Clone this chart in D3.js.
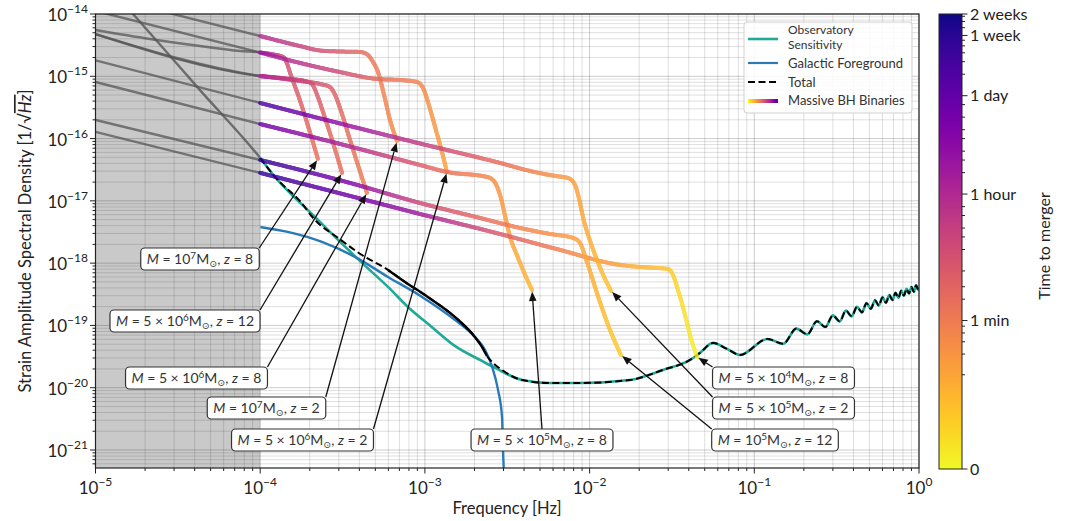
<!DOCTYPE html>
<html>
<head>
<meta charset="utf-8">
<script src="https://cdn.jsdelivr.net/npm/d3@7/dist/d3.min.js"></script>
<style>
  html,body{margin:0;padding:0;background:#fff;}
  svg text{font-family:Lato,"Open Sans","DejaVu Sans",sans-serif;}
</style>
</head>
<body>
<svg id="chart" width="1065" height="521"></svg>
<script>
// ================= DATA =================
const xTickExps = [-5, -4, -3, -2, -1, 0];
const yTickExps = [-21, -20, -19, -18, -17, -16, -15, -14];
const cbTickTimes = [0, 60, 3600, 86400, 604800, 1209600];
const cbTickLabels = ["0", "1 min", "1 hour", "1 day", "1 week", "2 weeks"];
const cbMinorTimes = [10, 20, 30, 40, 50, 120, 180, 300, 600, 900, 1200, 1800, 2400,
  7200, 10800, 14400, 21600, 28800, 43200, 64800, 172800, 259200, 345600, 432000, 518400,
  777600, 950400, 1123200];
const legendLabels = [["Observatory", "Sensitivity"], ["Galactic Foreground"], ["Total"], ["Massive BH Binaries"]];

// Observatory sensitivity [f (Hz), ASD]
const sensitivity = [
  [1.0e-5, 4.7e-14], [1.69e-5, 1.0e-14], [4.31e-5, 6.0e-16], [1.0e-4, 4.88e-17],
  [1.23e-4, 2.42e-17], [2.15e-4, 5.51e-18], [2.97e-4, 2.36e-18], [4.15e-4, 1.01e-18],
  [5.97e-4, 4.15e-19], [7.89e-4, 1.98e-19], [1.10e-3, 9.46e-20], [1.52e-3, 4.69e-20],
  [2.22e-3, 2.69e-20], [2.67e-3, 2.08e-20], [3.89e-3, 1.33e-20], [5.75e-3, 1.19e-20],
  [8.74e-3, 1.19e-20], [1.76e-2, 1.33e-20], [2.79e-2, 1.93e-20], [4.07e-2, 2.79e-20],
  [4.68e-2, 3.62e-20], [5.61e-2, 5.24e-20], [6.83e-2, 4.20e-20], [8.18e-2, 3.36e-20],
  [0.12, 6.05e-20], [0.15, 5.07e-20], [0.18, 8.89e-20], [0.21, 7.19e-20],
  [0.24, 1.17e-19], [0.27, 9.42e-20], [0.30, 1.45e-19], [0.33, 1.16e-19],
  [0.36, 1.73e-19], [0.39, 1.40e-19], [0.42, 1.99e-19], [0.45, 1.62e-19],
  [0.48, 2.28e-19], [0.51, 1.85e-19], [0.54, 2.54e-19], [0.57, 2.08e-19],
  [0.60, 2.82e-19], [0.63, 2.31e-19], [0.66, 3.07e-19], [0.69, 2.55e-19],
  [0.72, 3.34e-19], [0.75, 2.77e-19], [0.78, 3.62e-19], [0.81, 3.01e-19],
  [0.84, 3.86e-19], [0.87, 3.25e-19], [0.90, 4.14e-19], [0.93, 3.48e-19],
  [0.96, 4.42e-19], [0.99, 3.71e-19], [1.0, 4.0e-19]
];
// Galactic foreground
const foreground = [
  [1.0e-4, 3.81e-18], [1.47e-4, 3.17e-18], [2.37e-4, 2.19e-18], [3.76e-4, 1.26e-18],
  [5.97e-4, 6.01e-19], [9.61e-4, 2.87e-19], [1.52e-3, 1.23e-19], [2.01e-3, 6.54e-20],
  [2.32e-3, 4.04e-20], [2.56e-3, 2.16e-20], [2.78e-3, 9.22e-21], [2.94e-3, 3.40e-21],
  [2.98e-3, 1.00e-21], [3.02e-3, 4.0e-22]
];
// Total (low-frequency part, joins the sensitivity above ~4 mHz)
const totalLow = [
  [1.0e-4, 4.88e-17], [1.23e-4, 2.42e-17], [1.74e-4, 9.96e-18], [2.15e-4, 4.94e-18],
  [2.97e-4, 2.54e-18], [4.15e-4, 1.35e-18], [5.97e-4, 7.78e-19], [7.57e-4, 4.99e-19],
  [1.04e-3, 2.87e-19], [1.52e-3, 1.37e-19], [2.01e-3, 6.54e-20], [2.22e-3, 4.52e-20],
  [2.38e-3, 3.24e-20], [2.59e-3, 2.50e-20], [2.94e-3, 1.93e-20], [3.89e-3, 1.33e-20]
];

// Massive BH binary tracks: [f (Hz), ASD, time to merger (s)]
const bbh_1e7_z8 = [
  [1.0e-5, 5.53e-15, null], [2.14e-5, 3.97e-15, null], [4.31e-5, 3.06e-15, null], [7.54e-5, 2.55e-15, null],
  [1.0e-4, 2.41e-15, 9000], [1.15e-4, 2.28e-15, 4000], [1.38e-4, 2.04e-15, 900], [1.45e-4, 1.64e-15, 600],
  [1.52e-4, 1.13e-15, 450], [1.74e-4, 4.16e-16, 250], [2.01e-4, 1.23e-16, 150], [2.24e-4, 4.71e-17, 100]
];
const bbh_5e6_z12 = [
  [1.0e-5, 4.77e-15, null], [1.0e-4, 1.01e-15, 3600], [1.52e-4, 9.05e-16, 1200], [1.87e-4, 8.41e-16, 600],
  [2.06e-4, 7.52e-16, 400], [2.24e-4, 4.65e-16, 280], [2.44e-4, 2.39e-16, 200], [2.65e-4, 1.23e-16, 160],
  [2.89e-4, 5.87e-17, 130], [3.14e-4, 2.81e-17, 110]
];
const bbh_5e6_z8 = [
  [1.0e-5, 4.77e-15, null], [1.0e-4, 1.01e-15, 3600], [1.74e-4, 8.41e-16, 1000], [2.31e-4, 7.52e-16, 450],
  [2.65e-4, 6.73e-16, 300], [2.85e-4, 5.01e-16, 220], [3.05e-4, 3.10e-16, 170], [3.51e-4, 9.50e-17, 110],
  [3.92e-4, 3.77e-17, 80], [4.45e-4, 1.34e-17, 60]
];
const bbh_1e7_z2 = [
  [1.0e-5, 2.06e-14, null], [1.0e-4, 4.43e-15, 3600], [1.74e-4, 3.06e-15, 1200], [2.31e-4, 2.59e-15, 600],
  [3.05e-4, 2.50e-15, 300], [4.04e-4, 2.46e-15, 160], [4.51e-4, 2.20e-15, 110], [4.84e-4, 1.70e-15, 80],
  [5.19e-4, 1.17e-15, 60], [5.65e-4, 5.01e-16, 45], [6.14e-4, 1.99e-16, 38], [6.77e-4, 9.15e-17, 30]
];
const bbh_5e6_z2 = [
  [1.0e-5, 1.12e-14, null], [1.0e-4, 2.41e-15, 9000], [1.74e-4, 1.64e-15, 2500], [3.05e-4, 1.17e-15, 700],
  [5.12e-4, 9.05e-16, 150], [7.06e-4, 8.72e-16, 70], [8.95e-4, 8.10e-16, 45], [9.74e-4, 6.49e-16, 35],
  [1.07e-3, 3.10e-16, 25], [1.18e-3, 1.23e-16, 18], [1.27e-3, 6.09e-17, 15], [1.36e-3, 2.91e-17, 12]
];
const bbh_5e5_z8 = [
  [1.0e-5, 8.10e-16, null], [1.0e-4, 1.71e-16, 60000], [3.51e-4, 7.46e-17, 4000], [9.33e-4, 3.77e-17, 300],
  [1.36e-3, 2.91e-17, 100], [2.38e-3, 2.42e-17, 40], [2.59e-3, 2.17e-17, 30], [2.86e-3, 1.24e-17, 20],
  [3.06e-3, 5.94e-18, 15], [3.29e-3, 2.63e-18, 12], [3.62e-3, 1.35e-18, 9], [3.94e-3, 7.78e-19, 7],
  [4.47e-3, 3.71e-19, 5]
];
const bbh_5e4_z8 = [
  [1.0e-5, 1.28e-16, null], [1.0e-4, 2.81e-17, 500000], [3.51e-4, 1.20e-17, 50000], [9.33e-4, 6.16e-18, 8000],
  [2.86e-3, 2.94e-18, 300], [6.61e-3, 1.63e-18, 50], [1.53e-2, 9.36e-19, 12], [2.02e-2, 8.69e-19, 6],
  [2.99e-2, 8.07e-19, 3], [3.21e-2, 6.46e-19, 2], [3.44e-2, 3.71e-19, 1.2], [3.80e-2, 1.47e-19, 0.7],
  [4.07e-2, 7.04e-20, 0.4], [4.49e-2, 3.12e-20, 0.2]
];
const bbh_5e5_z2 = [
  [1.0e-5, 1.80e-15, null], [1.0e-4, 3.73e-16, 250000], [3.51e-4, 1.59e-16, 10000], [9.33e-4, 8.34e-17, 1500],
  [2.86e-3, 4.06e-17, 120], [4.35e-3, 3.02e-17, 50], [6.16e-3, 2.51e-17, 25], [7.39e-3, 2.33e-17, 18],
  [8.15e-3, 1.80e-17, 14], [9.38e-3, 4.10e-18, 9], [1.08e-2, 1.35e-18, 6], [1.21e-2, 6.46e-19, 4],
  [1.35e-2, 3.58e-19, 3]
];
const bbh_1e5_z12 = [
  [1.0e-5, 1.99e-16, null], [1.0e-4, 4.53e-17, 600000], [3.51e-4, 1.94e-17, 30000], [9.33e-4, 9.25e-18, 800],
  [2.16e-3, 5.31e-18, 150], [3.78e-3, 3.67e-18, 50], [5.75e-3, 2.94e-18, 25], [7.93e-3, 2.54e-18, 15],
  [8.74e-3, 2.11e-18, 11], [9.64e-3, 1.04e-18, 8], [1.16e-2, 2.30e-19, 5], [1.33e-2, 8.47e-20, 3],
  [1.55e-2, 3.36e-20, 2]
];
const tracks = [bbh_1e7_z8, bbh_5e6_z12, bbh_5e6_z8, bbh_1e7_z2, bbh_5e6_z2, bbh_5e5_z8, bbh_5e4_z8, bbh_5e5_z2, bbh_1e5_z12];
const labelCoef = ["", "5 × ", "5 × ", "", "5 × ", "5 × ", "5 × ", "5 × ", ""];
const labelExp  = ["7", "6", "6", "7", "6", "5", "4", "5", "5"];
const labelZ    = ["8", "12", "8", "2", "2", "8", "8", "2", "12"];

// ================= LAYOUT =================
const svg = d3.select("#chart");
const X0 = 95.5, X1 = 919, Y0 = 14, Y1 = 468;
const x = d3.scaleLog().domain([1e-5, 1]).range([X0, X1]);
const y = d3.scaleLog().domain([5.14e-22, 1e-14]).range([Y1, Y0]);
const xSplit = x(1e-4);

const defs = svg.append("defs");
defs.append("clipPath").attr("id", "clipPlot").append("rect")
  .attr("x", X0).attr("y", Y0).attr("width", X1 - X0).attr("height", Y1 - Y0);
defs.append("clipPath").attr("id", "clipGray").append("rect")
  .attr("x", X0).attr("y", Y0).attr("width", xSplit - X0).attr("height", Y1 - Y0);
defs.append("clipPath").attr("id", "clipColor").append("rect")
  .attr("x", xSplit).attr("y", Y0).attr("width", X1 - xSplit).attr("height", Y1 - Y0);

// shaded region
svg.append("rect").attr("x", X0).attr("y", Y0).attr("width", xSplit - X0).attr("height", Y1 - Y0)
  .attr("fill", "#c9c9c9");

// grid
const grid = svg.append("g");
const xMaj = [], xMin = [], yMaj = [], yMin = [];
for (let e = -5; e <= 0; e++) for (let k = 1; k <= 9; k++) {
  const v = k * Math.pow(10, e); if (v > 1.000001) break; (k === 1 ? xMaj : xMin).push(v);
}
for (let e = -22; e <= -14; e++) for (let k = 1; k <= 9; k++) {
  const v = k * Math.pow(10, e); if (v < 5.14e-22 || v > 1.0001e-14) continue; (k === 1 ? yMaj : yMin).push(v);
}
grid.selectAll(".gxm").data(xMin).join("line").attr("x1", d => x(d)).attr("x2", d => x(d))
  .attr("y1", Y0).attr("y2", Y1).attr("stroke", "#000").attr("stroke-opacity", 0.13).attr("stroke-width", 1);
grid.selectAll(".gxM").data(xMaj).join("line").attr("x1", d => x(d)).attr("x2", d => x(d))
  .attr("y1", Y0).attr("y2", Y1).attr("stroke", "#000").attr("stroke-opacity", 0.2).attr("stroke-width", 1);
grid.selectAll(".gym").data(yMin).join("line").attr("y1", d => y(d)).attr("y2", d => y(d))
  .attr("x1", X0).attr("x2", X1).attr("stroke", "#000").attr("stroke-opacity", 0.13).attr("stroke-width", 1);
grid.selectAll(".gyM").data(yMaj).join("line").attr("y1", d => y(d)).attr("y2", d => y(d))
  .attr("x1", X0).attr("x2", X1).attr("stroke", "#000").attr("stroke-opacity", 0.2).attr("stroke-width", 1);

// colorbar scale (log-like in time to merger)
const CB_X = 939, CB_W = 23, CB_TOP = 14, CB_BOT = 469, CB_H = CB_BOT - CB_TOP;
const tr = t => Math.log10(1 + 2 * t);
const cbY = d3.scaleLinear().domain([0, tr(cbTickTimes[cbTickTimes.length - 1])]).range([CB_BOT, CB_TOP]);
const cbPos = t => cbY(tr(t));
const cbOff = t => (cbPos(t) - CB_TOP) / CB_H;

const lineGen = d3.line().x(d => x(d[0])).y(d => y(d[1])).curve(d3.curveMonotoneX);

// gray (shaded-region) parts
const grayG = svg.append("g").attr("clip-path", "url(#clipGray)");
tracks.forEach(tk => {
  grayG.append("path").attr("d", lineGen(tk)).attr("fill", "none")
    .attr("stroke", "#555").attr("stroke-opacity", 0.75).attr("stroke-width", 2.4);
});
grayG.append("path").attr("d", lineGen(sensitivity)).attr("fill", "none")
  .attr("stroke", "#555").attr("stroke-opacity", 0.8).attr("stroke-width", 2.4);

// noise curves
const noiseG = svg.append("g").attr("clip-path", "url(#clipColor)");
noiseG.append("path").attr("d", lineGen(sensitivity)).attr("fill", "none")
  .attr("stroke", "#1fa996").attr("stroke-width", 2.6);
noiseG.append("path").attr("d", lineGen(foreground)).attr("fill", "none")
  .attr("stroke", "#2a7ab8").attr("stroke-width", 2.4);
const totalAll = totalLow.concat(sensitivity.filter(d => d[0] > 3.89e-3));
noiseG.append("path").attr("d", lineGen(totalAll)).attr("fill", "none")
  .attr("stroke", "#000").attr("stroke-width", 2).attr("stroke-dasharray", "7,3.5");
noiseG.append("path").attr("d", lineGen(totalLow.filter(d => d[0] >= 5.9e-4 && d[0] <= 2.4e-3))).attr("fill", "none")
  .attr("stroke", "#000").attr("stroke-width", 2.4);

// colored tracks
const colorG = svg.append("g").attr("clip-path", "url(#clipPlot)");
const tmp = svg.append("path").attr("fill", "none").attr("stroke", "none");
tracks.forEach(tk => {
  const col = tk.filter(d => d[2] != null);
  const node = tmp.attr("d", lineGen(col)).node();
  const L = node.getTotalLength();
  const px = col.map(d => x(d[0]));
  const oc = col.map(d => cbOff(d[2]));
  const g = colorG.append("g").attr("opacity", 0.82);
  let prev = node.getPointAtLength(0);
  const step = 1.5;
  for (let s = step; ; s += step) {
    const p = node.getPointAtLength(Math.min(s, L));
    const mx = (prev.x + p.x) / 2;
    let i = d3.bisectRight(px, mx) - 1; i = Math.max(0, Math.min(px.length - 2, i));
    const u = Math.max(0, Math.min(1, (mx - px[i]) / (px[i + 1] - px[i])));
    const o = oc[i] + u * (oc[i + 1] - oc[i]);
    g.append("line").attr("x1", prev.x).attr("y1", prev.y).attr("x2", p.x).attr("y2", p.y)
      .attr("stroke", d3.interpolatePlasma(o)).attr("stroke-width", 4).attr("stroke-linecap", "round");
    prev = p;
    if (s >= L) break;
  }
});
tmp.remove();

// spines
svg.append("rect").attr("x", X0).attr("y", Y0).attr("width", X1 - X0).attr("height", Y1 - Y0)
  .attr("fill", "none").attr("stroke", "#222").attr("stroke-width", 1.2);

// ticks
const axG = svg.append("g").attr("stroke", "#222").attr("stroke-width", 1);
axG.selectAll(".txM").data(xMaj).join("line").attr("x1", d => x(d)).attr("x2", d => x(d)).attr("y1", Y1).attr("y2", Y1 + 5.5);
axG.selectAll(".txm").data(xMin).join("line").attr("x1", d => x(d)).attr("x2", d => x(d)).attr("y1", Y1).attr("y2", Y1 + 3);
axG.selectAll(".tyM").data(yMaj).join("line").attr("y1", d => y(d)).attr("y2", d => y(d)).attr("x1", X0 - 5.5).attr("x2", X0);
axG.selectAll(".tym").data(yMin).join("line").attr("y1", d => y(d)).attr("y2", d => y(d)).attr("x1", X0 - 3).attr("x2", X0);

function powLabel(px, py, exp, anchor) {
  const t = svg.append("text").attr("x", px).attr("y", py).attr("text-anchor", anchor)
    .attr("font-size", 17).attr("fill", "#222");
  t.append("tspan").text("10");
  t.append("tspan").attr("dy", -8).attr("font-size", 12).text(exp < 0 ? "−" + Math.abs(exp) : String(exp));
}
xTickExps.forEach(e => powLabel(x(Math.pow(10, e)), 494, e, "middle"));
yTickExps.forEach(e => powLabel(88, y(Math.pow(10, e)) + 7, e, "end"));

// axis labels
svg.append("text").attr("x", 507).attr("y", 514).attr("text-anchor", "middle")
  .attr("font-size", 16.5).attr("fill", "#222").text("Frequency [Hz]");
const yl = svg.append("text").attr("transform", "translate(31,241) rotate(-90)").attr("text-anchor", "middle")
  .attr("font-size", 16.5).attr("fill", "#222");
yl.append("tspan").text("Strain Amplitude Spectral Density [1/√");
yl.append("tspan").attr("font-style", "italic").attr("text-decoration", "overline").text("Hz");
yl.append("tspan").text("]");

// annotations
const annLayout = [
  [200, 259, 1, 0], [185, 321, 1, 0], [196.5, 378, 1, 0], [266.5, 408, 1, 0], [302.5, 440, 1, 0],
  [542, 440, 0.5, 0], [783.5, 378, 0, 0], [783.5, 408, 0, 0], [775, 440, 0, 0]
];
const annG = svg.append("g");
tracks.forEach((tk, i) => {
  const [cx, cy, rx, ry] = annLayout[i];
  const g = annG.append("g");
  const t = g.append("text").attr("font-size", 14).attr("fill", "#333");
  t.append("tspan").attr("font-style", "italic").text("M");
  t.append("tspan").text(" = " + labelCoef[i] + "10");
  t.append("tspan").attr("font-size", 10).attr("dy", -5.5).text(labelExp[i]);
  t.append("tspan").attr("dy", 5.5).text("M");
  t.append("tspan").attr("font-size", 9.5).attr("dy", 3).text("⊙");
  t.append("tspan").attr("dy", -3).text(", ");
  t.append("tspan").attr("font-style", "italic").text("z");
  t.append("tspan").text(" = " + labelZ[i]);
  const bb = t.node().getBBox();
  const w = bb.width + 12, h = 22;
  const bx = cx - w / 2, by = cy - h / 2;
  t.attr("x", cx - bb.width / 2).attr("y", cy + 5);
  // arrow
  const last = tk[tk.length - 1];
  const tx = x(last[0]), ty = y(last[1]);
  const sx = bx + rx * w, sy = by + ry * h;
  const ang = Math.atan2(ty - sy, tx - sx);
  const hl = 9.5, hw = 3.8;
  const ex = tx - Math.cos(ang) * 1.5, ey = ty - Math.sin(ang) * 1.5;
  const bx2 = ex - Math.cos(ang) * hl, by2 = ey - Math.sin(ang) * hl;
  annG.insert("line", ":first-child").attr("x1", sx).attr("y1", sy).attr("x2", bx2).attr("y2", by2)
    .attr("stroke", "#111").attr("stroke-width", 1.3);
  annG.insert("path", ":first-child").attr("d",
    `M${ex},${ey}L${bx2 - Math.sin(ang) * hw},${by2 + Math.cos(ang) * hw}L${bx2 + Math.sin(ang) * hw},${by2 - Math.cos(ang) * hw}Z`)
    .attr("fill", "#111");
  g.insert("rect", "text").attr("x", bx).attr("y", by).attr("width", w).attr("height", h)
    .attr("rx", 4).attr("fill", "#fff").attr("stroke", "#333").attr("stroke-width", 1.2);
});

// legend
const lg = svg.append("g");
lg.append("rect").attr("x", 744).attr("y", 22).attr("width", 168).attr("height", 91).attr("rx", 3)
  .attr("fill", "#fff").attr("fill-opacity", 0.85).attr("stroke", "#d0d0d0");
const lgGrad = defs.append("linearGradient").attr("id", "lgGrad");
d3.range(0, 11).forEach(i => lgGrad.append("stop").attr("offset", i / 10)
  .attr("stop-color", d3.interpolatePlasma(1 - i / 10 * 0.85)));
lg.append("line").attr("x1", 748).attr("x2", 778).attr("y1", 39).attr("y2", 39).attr("stroke", "#1fa996").attr("stroke-width", 2.6);
lg.append("line").attr("x1", 748).attr("x2", 778).attr("y1", 63).attr("y2", 63).attr("stroke", "#2a7ab8").attr("stroke-width", 2.2);
lg.append("line").attr("x1", 748).attr("x2", 778).attr("y1", 82).attr("y2", 82).attr("stroke", "#000").attr("stroke-width", 2).attr("stroke-dasharray", "7,3.5");
lg.append("rect").attr("x", 748).attr("y", 99).attr("width", 30).attr("height", 4).attr("fill", "url(#lgGrad)");
const lgY = [[34, 49], [67.5], [86.5], [105]];
const lgFs = [12, 13, 13, 13];
legendLabels.forEach((lines, i) => lines.forEach((s, j) =>
  lg.append("text").attr("x", 788).attr("y", lgY[i][j]).attr("font-size", lgFs[i]).attr("fill", "#333").text(s)));

// colorbar
const cbGrad = defs.append("linearGradient").attr("id", "cbGrad").attr("x1", 0).attr("y1", 0).attr("x2", 0).attr("y2", 1);
d3.range(0, 41).forEach(i => cbGrad.append("stop").attr("offset", i / 40).attr("stop-color", d3.interpolatePlasma(i / 40)));
svg.append("rect").attr("x", CB_X).attr("y", CB_TOP).attr("width", CB_W).attr("height", CB_H)
  .attr("fill", "url(#cbGrad)").attr("stroke", "#222").attr("stroke-width", 1);
const cbG = svg.append("g").attr("stroke", "#222").attr("stroke-width", 1);
cbG.selectAll(".cbm").data(cbMinorTimes).join("line").attr("x1", CB_X + CB_W).attr("x2", CB_X + CB_W + 3)
  .attr("y1", d => cbPos(d)).attr("y2", d => cbPos(d));
cbG.selectAll(".cbM").data(cbTickTimes).join("line").attr("x1", CB_X + CB_W).attr("x2", CB_X + CB_W + 5.5)
  .attr("y1", d => cbPos(d)).attr("y2", d => cbPos(d));
cbTickTimes.forEach((t, i) => svg.append("text").attr("x", 970).attr("y", cbPos(t) + 5.5)
  .attr("font-size", 16).attr("fill", "#222").text(cbTickLabels[i]));
svg.append("text").attr("transform", "translate(1050,246) rotate(-90)").attr("text-anchor", "middle")
  .attr("font-size", 16).attr("fill", "#222").text("Time to merger");
</script>
</body>
</html>
